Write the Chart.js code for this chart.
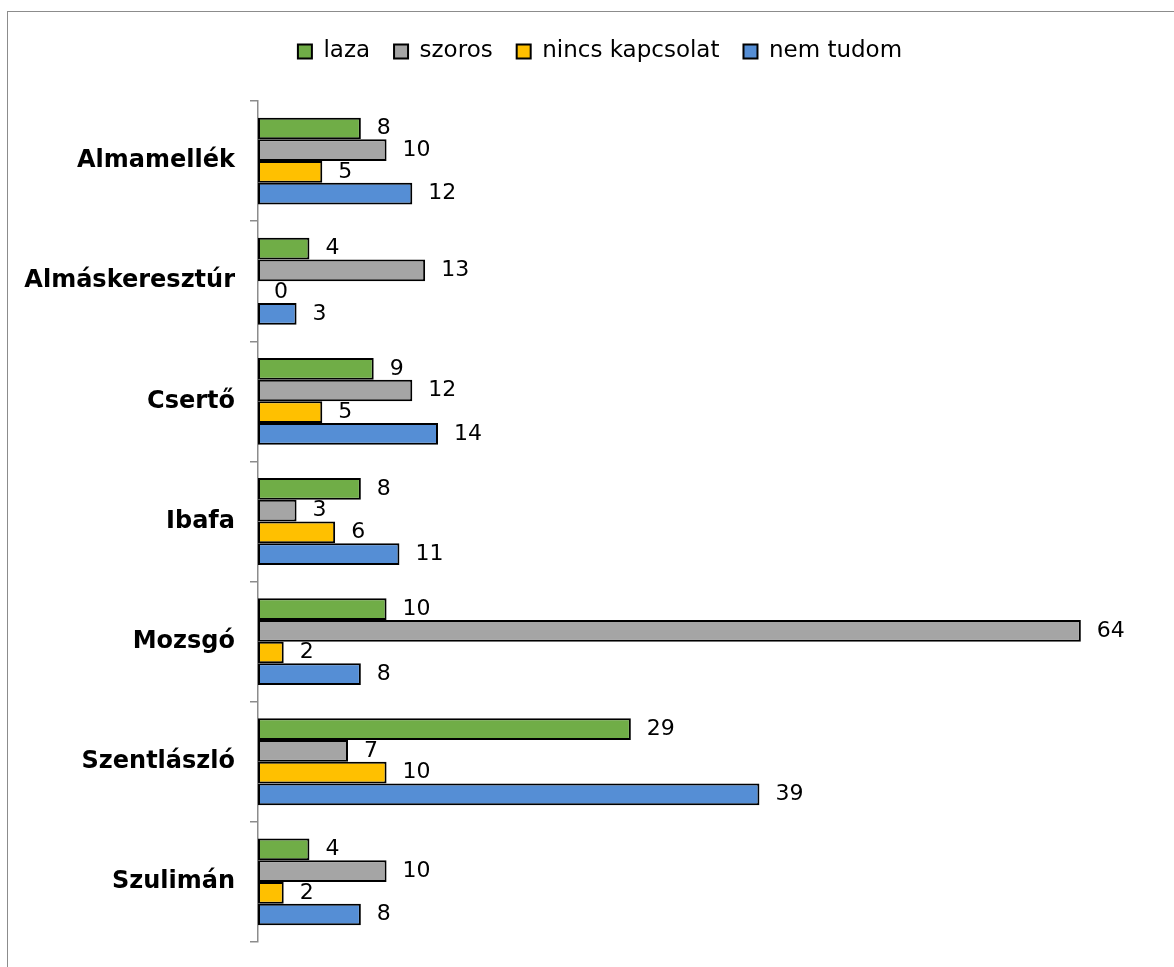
<!DOCTYPE html>
<html>
<head>
<meta charset="utf-8">
<script src="https://cdn.jsdelivr.net/npm/chart.js@4/dist/chart.umd.min.js"></script>
<style>
  body { margin: 0; background: #fff; }
  #frame { position: absolute; left: 7px; top: 11px; width: 1200px; height: 1000px; border: 1.5px solid #8c8c8c; }
  #wrap { position: absolute; left: 0; top: 0; width: 1174px; height: 967px; }
</style>
</head>
<body>
<div id="frame"></div>
<div id="wrap"><canvas id="chart"></canvas></div>
<script>
// adatok
const telepulesek = ['Almamellék', 'Almáskeresztúr', 'Csertő', 'Ibafa', 'Mozsgó', 'Szentlászló', 'Szulimán'];
const laza = [8, 4, 9, 8, 10, 29, 4];
const szoros = [10, 13, 12, 3, 64, 7, 10];
const nincsKapcsolat = [5, 0, 5, 6, 2, 10, 2];
const nemTudom = [12, 3, 14, 11, 8, 39, 8];

const FONT = "'DejaVu Sans', Verdana, sans-serif";

// értékcímkék a sávok végén
const ertekCimkek = {
    id: 'ertekCimkek',
    afterDatasetsDraw(chart) {
        const ctx = chart.ctx;
        ctx.save();
        ctx.font = '22px ' + FONT;
        ctx.fillStyle = '#000';
        ctx.textAlign = 'left';
        ctx.textBaseline = 'middle';
        chart.data.datasets.forEach((ds, i) => {
            chart.getDatasetMeta(i).data.forEach((bar, j) => {
                ctx.fillText(String(ds.data[j]), bar.x + 16, bar.y);
            });
        });
        ctx.restore();
    }
};

// több hely a jelmagyarázat alatt
const jelmagyarazatHely = {
    id: 'jelmagyarazatHely',
    beforeLayout(chart) {
        const lg = chart.legend;
        if (lg && !lg._toldva) {
            const eredeti = lg.fit;
            lg.fit = function () {
                eredeti.call(this);
                this.height += 28;
            };
            lg._toldva = true;
        }
    }
};

function sorozat(label, data, szin) {
    return {
        label: label,
        data: data,
        backgroundColor: szin,
        borderColor: '#000',
        borderWidth: 2,
        borderSkipped: false,
        barPercentage: 1.0,
        categoryPercentage: 0.723
    };
}

new Chart(document.getElementById('chart'), {
    type: 'bar',
    data: {
        labels: telepulesek,
        datasets: [
            sorozat('laza', laza, '#70AD47'),
            sorozat('szoros', szoros, '#A5A5A5'),
            sorozat('nincs kapcsolat', nincsKapcsolat, '#FFC000'),
            sorozat('nem tudom', nemTudom, '#558ED5')
        ]
    },
    options: {
        indexAxis: 'y',
        responsive: true,
        maintainAspectRatio: false,
        animation: false,
        layout: { padding: { top: 16, left: 42, right: 16, bottom: 25 } },
        plugins: {
            legend: {
                position: 'top',
                labels: {
                    boxWidth: 14,
                    boxHeight: 14,
                    padding: 24,
                    color: '#000',
                    font: { family: FONT, size: 23 }
                }
            },
            tooltip: { enabled: false }
        },
        scales: {
            x: {
                display: false,
                min: 0,
                max: 70
            },
            y: {
                afterFit(scale) {
                    scale.width = 216;
                    scale.paddingTop = 0;
                    scale.paddingBottom = 0;
                    // a hosszú feliratok ne legyenek levágva
                    scale._computeLabelArea = () => undefined;
                },
                border: { color: '#8c8c8c', width: 1.5 },
                grid: {
                    offset: true,
                    drawOnChartArea: false,
                    tickLength: 8,
                    color: '#8c8c8c',
                    lineWidth: 1.5
                },
                ticks: {
                    padding: 15,
                    color: '#000',
                    font: { family: FONT, size: 24, weight: 'bold' }
                }
            }
        }
    },
    plugins: [ertekCimkek, jelmagyarazatHely]
});
</script>
</body>
</html>
